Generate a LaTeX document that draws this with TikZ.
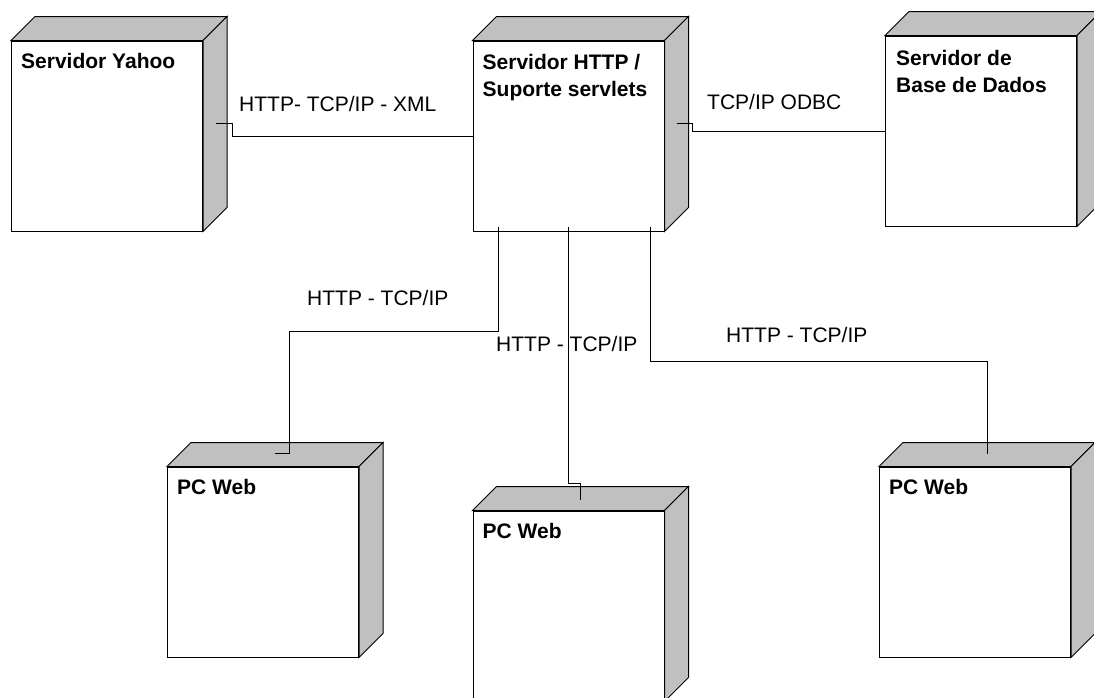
\documentclass[tikz,border=0pt]{standalone}
\usepackage{fontspec}
\setmainfont{Liberation Sans}
\usepackage{xcolor}
\usetikzlibrary{calc}

\definecolor{devgray}{HTML}{C0C0C0}
\tikzset{
  devbox/.style={draw, fill=white, line width=1pt, minimum width=191pt, minimum height=190pt, inner sep=0pt},
  devface/.style={fill=devgray, draw=black, line width=1pt, line join=miter},
  devtitle/.style={anchor=north west, inner sep=0pt, align=left, font=\fontsize{21}{27}\selectfont\bfseries},
  linklabel/.style={anchor=base west, inner sep=0pt, font=\fontsize{21}{27}\selectfont},
  link/.style={line width=1pt}
}

\begin{document}
\begin{tikzpicture}[x=1pt, y=-1pt]
        \useasboundingbox (0, 0) rectangle (1094, 697);
        % the six devices
        \node [devbox] (yahoo) at (107, 136) {};
        \node [devbox] (http) at (568.5, 136) {};
        \node [devbox] (db) at (981, 131) {};
        \node [devbox] (pc1) at (263, 562) {};
        \node [devbox] (pc2) at (568.5, 606) {};
        \node [devbox] (pc3) at (975, 562) {};
        \foreach \n in {yahoo, http, db, pc1, pc2, pc3}{
            \path [devface] (\n.north west) -- ([shift={(24, -24)}]\n.north west) -- ([shift={(24, -24)}]\n.north east) -- (\n.north east) -- cycle;
            \path [devface] (\n.north east) -- ([shift={(24, -24)}]\n.north east) -- ([shift={(24, -24)}]\n.south east) -- (\n.south east) -- cycle;
        }
        \node [devtitle] (yahoo-t) at ([shift={(10, 13)}]yahoo.north west) {Servidor Yahoo};
        \node [devtitle] (http-t) at ([shift={(10, 14)}]http.north west) {Servidor HTTP /\\Suporte servlets};
        \node [devtitle] (db-t) at ([shift={(11, 15)}]db.north west) {Servidor de\\Base de Dados};
        \node [devtitle] (pc1-t) at ([shift={(10, 13)}]pc1.north west) {PC Web};
        \node [devtitle] (pc2-t) at ([shift={(10, 13)}]pc2.north west) {PC Web};
        \node [devtitle] (pc3-t) at ([shift={(10, 13)}]pc3.north west) {PC Web};
        % links
        \draw [link] ([shift={(13, -13)}]yahoo.east) -- ++(16, 0) |- (http.west);
        \draw [link] ([shift={(12, -13)}]http.east) -- ++(16, 0) |- (db.west);
        \draw [link] ([shift={(-70, -5)}]http.south) -- ++(0, 105) -| ([shift={(26, -13)}]pc1.north) -- ++(-14, 0);
        \draw [link] ([shift={(0, -5)}]http.south) -- ++(0, 257) -| ([shift={(12, -11)}]pc2.north);
        \draw [link] ([shift={(82, -5)}]http.south) -- ++(0, 135) -| ([shift={(12, -13)}]pc3.north);
        \node [linklabel] (l-xml) at (239, 111) {HTTP- TCP/IP - XML};
        \node [linklabel] (l-odbc) at (707, 109) {TCP/IP ODBC};
        \node [linklabel] (l-pc1) at (307, 305) {HTTP - TCP/IP};
        \node [linklabel] (l-pc2) at (496, 351) {HTTP - TCP/IP};
        \node [linklabel] (l-pc3) at (726, 342) {HTTP - TCP/IP};
    \end{tikzpicture}
\end{document}
